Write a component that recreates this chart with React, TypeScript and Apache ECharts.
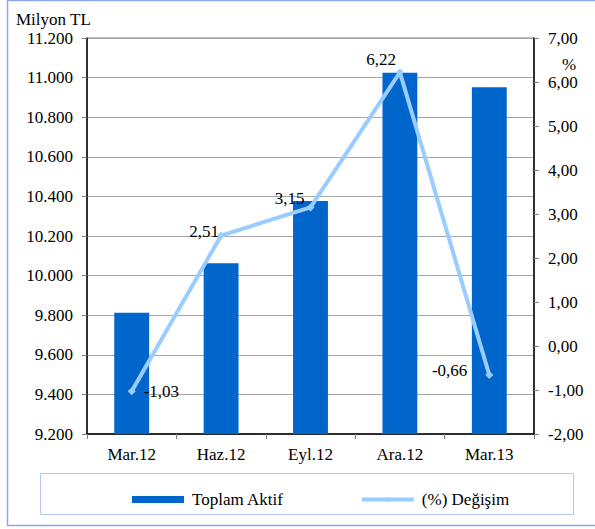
import React, { useEffect, useRef } from "react";
import * as echarts from "echarts";

const categories = ["Mar.12", "Haz.12", "Eyl.12", "Ara.12", "Mar.13"];
const toplamAktif = [9813, 10062, 10377, 11025, 10951];
const degisim = [-1.03, 2.51, 3.15, 6.22, -0.66];
const leftMin = 9200;
const leftMax = 11200;
const leftStep = 200;
const rightMin = -2;
const rightMax = 7;
const rightStep = 1;

const FONT = "Liberation Serif";

const labelPlacements: any[] = [
  { position: "right", distance: 8, offset: [0, 0] },
  { position: "left", distance: 0, offset: [2, -4] },
  { position: "left", distance: 2, offset: [0, -9] },
  { position: "left", distance: 0, offset: [0, -13] },
  { position: "left", distance: 18, offset: [0, -5] },
];

const fmtThousands = (v: number) => {
  const s = Math.round(v).toString();
  return s.replace(/\B(?=(\d{3})+(?!\d))/g, ".");
};
const fmtComma = (v: number) => v.toFixed(2).replace(".", ",");

export default function App() {
  const ref = useRef<HTMLDivElement>(null);
  useEffect(() => {
    document.body.style.margin = "0";
    if (!ref.current) return;
    const chart = echarts.init(ref.current, undefined, { renderer: "svg" });
    chart.setOption({
      animation: false,
      backgroundColor: "#ffffff",
      textStyle: { fontFamily: FONT, color: "#000" },
      grid: {
        left: 87,
        right: 61,
        top: 38,
        bottom: 95,
        show: true,
        borderColor: "#808080",
        borderWidth: 1,
      },
      graphic: [
        {
          type: "rect",
          shape: { x: 7.5, y: 0.5, width: 620, height: 525 },
          style: { fill: "none", stroke: "#8EA9E8", lineWidth: 1.5 },
          silent: true,
        },
        {
          type: "rect",
          shape: { x: 40.5, y: 473.5, width: 533, height: 41 },
          style: { fill: "none", stroke: "#B4C7F2", lineWidth: 1 },
          silent: true,
        },
        {
          type: "text",
          x: 16,
          y: 19,
          style: {
            text: "Milyon TL",
            fontFamily: FONT,
            fontSize: 17,
            fill: "#000",
            verticalAlign: "middle",
          },
        },
        {
          type: "text",
          x: 569,
          y: 64.5,
          style: {
            text: "%",
            fontFamily: FONT,
            fontSize: 17,
            fill: "#000",
            align: "center",
            verticalAlign: "middle",
          },
        },
      ],
      legend: {
        left: 127,
        top: 486,
        itemWidth: 52,
        itemHeight: 7,
        itemGap: 76,
        textStyle: { fontFamily: FONT, fontSize: 17, color: "#000", padding: [0, 0, 0, 3] },
        data: [
          { name: "Toplam Aktif", icon: "rect" },
          { name: "(%) Değişim", lineStyle: { width: 4, color: "#99CCFF" } },
        ],
      },
      xAxis: {
        type: "category",
        data: categories,
        boundaryGap: true,
        axisLine: { onZero: false, lineStyle: { color: "#000", width: 1.5 } },
        axisTick: { show: true, length: 5, lineStyle: { color: "#808080" } },
        axisLabel: { fontFamily: FONT, fontSize: 17, color: "#000", margin: 12 },
      },
      yAxis: [
        {
          type: "value",
          min: leftMin,
          max: leftMax,
          interval: leftStep,
          position: "left",
          axisLine: { show: true, lineStyle: { color: "#000", width: 1.5 } },
          axisTick: { show: true, length: 5, lineStyle: { color: "#808080" } },
          splitLine: { show: true, lineStyle: { color: "#A6A6A6", width: 1 } },
          axisLabel: {
            fontFamily: FONT,
            fontSize: 17,
            color: "#000",
            margin: 14,
            formatter: (v: number) => fmtThousands(v),
          },
        },
        {
          type: "value",
          min: rightMin,
          max: rightMax,
          interval: rightStep,
          position: "right",
          axisLine: { show: true, lineStyle: { color: "#000", width: 1.5 } },
          axisTick: { show: true, length: 5, lineStyle: { color: "#808080" } },
          splitLine: { show: false },
          axisLabel: {
            fontFamily: FONT,
            fontSize: 17,
            color: "#000",
            margin: 14,
            formatter: (v: number) => fmtComma(v),
          },
        },
      ],
      series: [
        {
          name: "Toplam Aktif",
          type: "bar",
          yAxisIndex: 0,
          data: toplamAktif,
          barWidth: "39%",
          itemStyle: { color: "#0066CC" },
        },
        {
          name: "(%) Değişim",
          type: "line",
          yAxisIndex: 1,
          data: degisim.map((v, i) => ({
            value: v,
            label: {
              show: true,
              ...labelPlacements[i],
              formatter: () => fmtComma(v),
              fontFamily: FONT,
              fontSize: 17,
              color: "#000",
            },
          })),
          symbol: "diamond",
          symbolSize: 8,
          lineStyle: { color: "#99CCFF", width: 4 },
          itemStyle: { color: "#99CCFF" },
          z: 5,
        },
      ],
    });
    return () => chart.dispose();
  }, []);
  return (
    <div
      ref={ref}
      style={{ position: "fixed", left: 0, top: 0, width: 595, height: 529 }}
    />
  );
}
